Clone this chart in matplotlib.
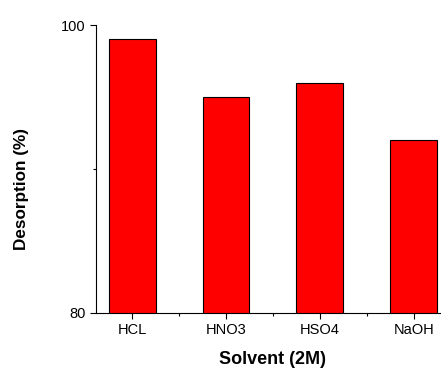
import matplotlib
matplotlib.use('Agg')
import matplotlib.pyplot as plt
from matplotlib.ticker import MultipleLocator

plt.rcParams['font.family'] = ['Liberation Sans', 'DejaVu Sans']

# data
solvents = ['HCL', 'HNO3', 'HSO4', 'NaOH']
desorption = [99.0, 95.0, 96.0, 92.0]

fig = plt.figure(figsize=(4.41, 3.69), dpi=100)
ax = fig.add_axes([0.218, 0.152, 0.78, 0.78])

x = list(range(len(solvents)))
ax.bar(x, desorption, width=0.5, color='#ff0000', edgecolor='black', linewidth=0.8)

ax.set_ylim(80, 100)
ax.set_xlim(-0.383, 3.28)
ax.set_yticks([80, 100])
ax.yaxis.set_minor_locator(MultipleLocator(10))
ax.set_xticks(x)
ax.set_xticklabels(solvents)
ax.set_xticks([0.5, 1.5, 2.5], minor=True)

ax.spines['top'].set_visible(False)
ax.spines['right'].set_visible(False)
ax.tick_params(which='major', direction='out', length=4, width=0.8, labelsize=10.5)
ax.tick_params(which='minor', direction='out', length=2, width=0.8)

ax.set_xlabel('Solvent (2M)', fontsize=13, fontweight='bold', va='center')
ax.xaxis.set_label_coords(0.512, -0.163)
ax.set_ylabel('Desorption (%)', fontsize=12.3, fontweight='bold', va='center')
ax.yaxis.set_label_coords(-0.218, 0.43)

fig.savefig('out.png', dpi=100)
